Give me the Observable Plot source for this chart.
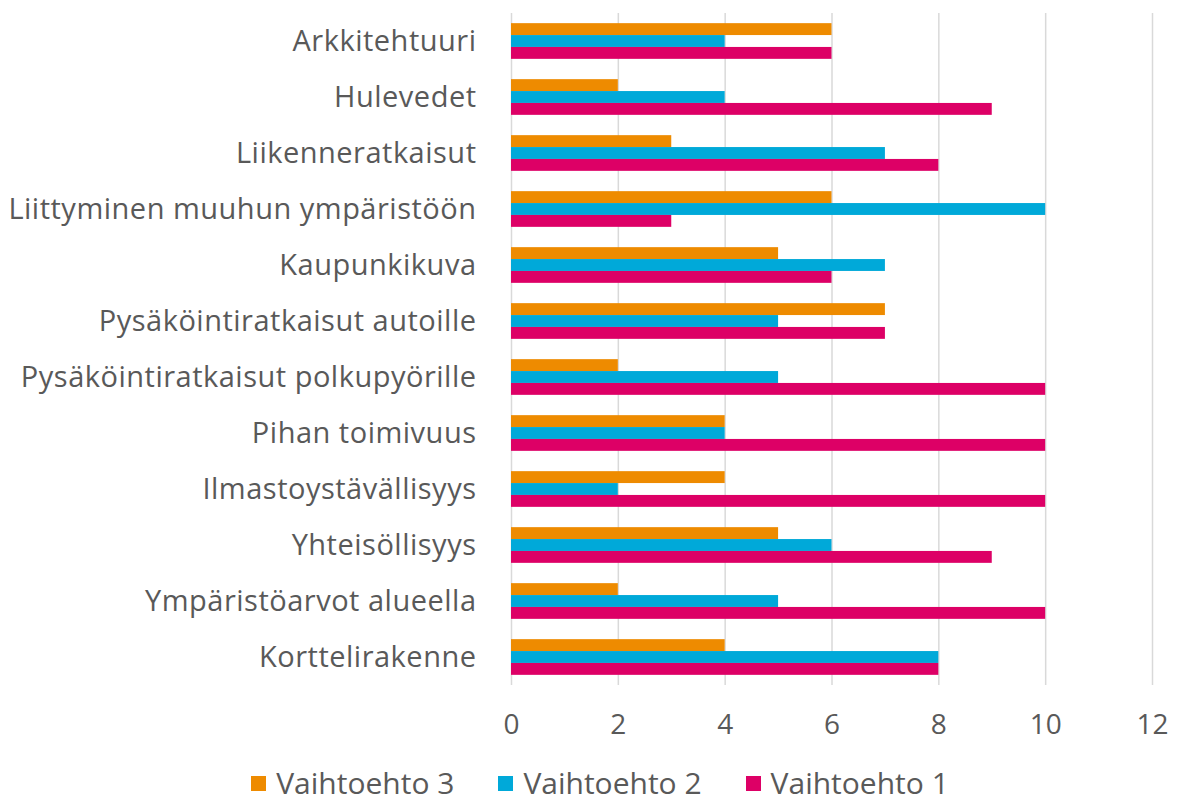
<!DOCTYPE html>
<html>
<head>
<meta charset="utf-8">
<script src="https://cdn.jsdelivr.net/npm/d3@7"></script>
<script src="https://cdn.jsdelivr.net/npm/@observablehq/plot@0.6"></script>
<style>
  body { margin: 0; background: #fff; font-family: "Open Sans", sans-serif; overflow: hidden; }
  #legend { display: flex; justify-content: center; align-items: center; gap: 44px; margin-top: 6px; height: 34px; line-height: 34px; width: 1178px; padding-left: 22px; box-sizing: border-box; color: #595959; font-size: 30px; }
  #legend .item { display: flex; align-items: center; }
  #legend .sw { width: 15px; height: 15px; margin-right: 10px; }
  .fyaxis text { letter-spacing: 0.5px; }
</style>
</head>
<body>
<div id="chart"></div>
<div id="legend"></div>
<script>
const categories = [
  "Arkkitehtuuri",
  "Hulevedet",
  "Liikenneratkaisut",
  "Liittyminen muuhun ympäristöön",
  "Kaupunkikuva",
  "Pysäköintiratkaisut autoille",
  "Pysäköintiratkaisut polkupyörille",
  "Pihan toimivuus",
  "Ilmastoystävällisyys",
  "Yhteisöllisyys",
  "Ympäristöarvot alueella",
  "Korttelirakenne"
];
const series = ["Vaihtoehto 3", "Vaihtoehto 2", "Vaihtoehto 1"];
const v3 = [6, 2, 3, 6, 5, 7, 2, 4, 4, 5, 2, 4];
const v2 = [4, 4, 7, 10, 7, 5, 5, 4, 2, 6, 5, 8];
const v1 = [6, 9, 8, 3, 6, 7, 10, 10, 10, 9, 10, 8];
const colors = ["#EE8B00", "#00A9D9", "#DD0066"];
const xTicks = [0, 2, 4, 6, 8, 10, 12];

const values = [v3, v2, v1];
const data = [];
categories.forEach((c, i) => {
  series.forEach((s, j) => data.push({category: c, series: s, value: values[j][i]}));
});

const chart = Plot.plot({
  width: 1178,
  height: 760,
  marginLeft: 511,
  marginRight: 26,
  marginTop: 10,
  marginBottom: 72,
  style: {fontFamily: "Open Sans, sans-serif", color: "#595959", background: "#fff"},
  x: {domain: [0, 12]},
  fy: {domain: categories, padding: 0},
  y: {domain: series, paddingInner: 0, paddingOuter: 0.854, axis: null, round: false},
  color: {domain: series, range: colors},
  marks: [
    Plot.ruleX(xTicks, {stroke: "#d9d9d9", strokeWidth: 1.5}),
    Plot.barX(data, {x: "value", y: "series", fy: "category", fill: "series"}),
    Plot.axisX({ticks: xTicks, tickSize: 0, tickPadding: 29, fontSize: 28, label: null, fill: "#595959"}),
    Plot.axisFy({anchor: "left", tickSize: 0, tickPadding: 35, fontSize: 29, label: null, fill: "#595959", className: "fyaxis"})
  ]
});
chart.style.display = "block";
document.getElementById("chart").appendChild(chart);

const legend = document.getElementById("legend");
series.forEach((s, j) => {
  const item = document.createElement("div");
  item.className = "item";
  const sw = document.createElement("span");
  sw.className = "sw";
  sw.style.background = colors[j];
  const t = document.createElement("span");
  t.textContent = s;
  item.appendChild(sw);
  item.appendChild(t);
  legend.appendChild(item);
});
</script>
</body>
</html>
